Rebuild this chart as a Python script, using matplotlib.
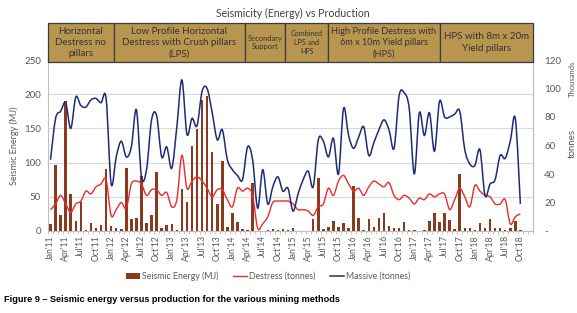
import numpy as np
import matplotlib
matplotlib.use("Agg")
from matplotlib import pyplot as plt
from matplotlib.path import Path
from matplotlib.patches import PathPatch, Rectangle, Patch
from matplotlib.lines import Line2D
from matplotlib import transforms

# months on the category axis, Jan'11 .. Dec'18
month_names = ["Jan", "Feb", "Mar", "Apr", "May", "Jun",
               "Jul", "Aug", "Sep", "Oct", "Nov", "Dec"]
years = ["11", "12", "13", "14", "15", "16", "17", "18"]
months = [f"{m}'{y}" for y in years for m in month_names]

# seismic energy (MJ), Jan'11 .. Oct'18
seismic = [10, 97, 24, 190, 54, 14, 42, 2, 12, 4, 9, 91,
           8, 5, 3, 92, 17, 19, 80, 11, 23, 86, 5, 9,
           10, 1.5, 61, 42, 125, 149, 191, 198, 115, 40, 103, 6,
           27, 13, 3, 2, 70, 0.5, 0.5, 1.5, 3, 2, 3, 1.5,
           4, 0.5, 0.5, 0.5, 17, 78, 3, 6, 14, 6, 11, 4,
           66, 19, 2, 18, 6, 19, 27, 7, 5, 4, 13, 2,
           2, 0.5, 1.5, 14, 27, 13, 27, 16, 3, 83, 5, 4,
           1.5, 11, 4, 17, 4, 5, 1.5, 4, 15, 1.5]

# destress production (thousand tonnes)
destress = [15, 19, 25, 19, 13, 19, 21, 28, 26, 31, 33, 36,
            11, 15, 20, 16, 33, 35, 33, 25, 29, 29, 25, 27,
            17, 22, 53, 30, 35, 38, 35, 30, 24, 29, 29, 22,
            17, 30, 28, 30, 25, 2, 5, 10, 20, 21, 21, 21,
            19, 15, 15, 14, 11, 17, 19, 30, 25, 35, 39, 33,
            28, 30, 25, 31, 35, 33, 31, 34, 25, 22, 25, 23,
            19, 23, 22, 26, 24, 26, 26, 15, 22, 30, 24, 17,
            32, 28, 25, 24, 19, 19, 22, 5, 10, 12]

# massive production (thousand tonnes)
massive = [50, 79, 84, 90, 72, 94, 88, 87, 92, 93, 90, 93,
           33, 52, 63, 52, 59, 85, 38, 43, 78, 81, 52, 59,
           44, 73, 106, 68, 79, 74, 98, 100, 83, 64, 71, 50,
           43, 39, 36, 59, 50, 16, 43, 19, 31, 38, 28, 30,
           14, 26, 36, 42, 31, 64, 63, 52, 65, 40, 86, 67,
           58, 66, 73, 53, 62, 71, 78, 71, 58, 95, 97, 86,
           40, 83, 67, 83, 56, 91, 80, 80, 82, 84, 57, 47,
           46, 57, 25, 33, 36, 53, 51, 63, 79, 19]

# mining method periods (category boundaries) and header labels
period_edges = [-0.5, 12.5, 38.5, 46.5, 55.0, 77.0, 95.5]
period_labels = ["Horizontal\nDestress no\npillars",
                 "Low Profile Horizontal\nDestress with Crush pillars\n(LPS)",
                 "Secondary\nSupport",
                 "Combined\nLPS and\nHPS",
                 "High Profile Destress with\n6m x 10m Yield pillars\n(HPS)",
                 "HPS with 8m x 20m\nYield pillars"]
period_sizes = [7.0, 7.0, 5.4, 5.1, 6.6, 7.0]


def smooth_path(x, y):
    """Excel-like smoothed line as a cubic bezier path through the points."""
    pts = np.column_stack([x, y]).astype(float)
    n = len(pts)
    verts = [pts[0]]
    codes = [Path.MOVETO]
    for i in range(n - 1):
        p0 = pts[max(i - 1, 0)]
        p1 = pts[i]
        p2 = pts[i + 1]
        p3 = pts[min(i + 2, n - 1)]
        verts += [p1 + (p2 - p0) / 6, p2 - (p3 - p1) / 6, p2]
        codes += [Path.CURVE4] * 3
    return Path(verts, codes)


plt.rcParams['font.family'] = ['Lato', 'DejaVu Sans']

bar_color = '#8B3A1E'
red = '#EE2A2A'
navy = '#1E2B78'
grey = '#595959'

fig = plt.figure(figsize=(5.77, 3.13), dpi=100)
ax = fig.add_axes([48 / 577, 1 - 231 / 313, 485 / 577, 171 / 313])
ax2 = ax.twinx()

x = np.arange(len(seismic))
ax.bar(x, seismic, width=0.5, color=bar_color, zorder=2)
ax.set_xlim(-0.5, len(months) - 0.5)
ax.set_ylim(0, 250)
ax.set_yticks(np.arange(0, 251, 50))
ax.grid(axis='y', color='#d9d9d9', lw=0.8, zorder=0)
ax.set_axisbelow(True)
ax.set_xticks(np.arange(0, len(months), 3))
ax.set_xticklabels(months[::3], rotation=90, fontsize=6.2, color=grey)
ax.set_xticks(np.arange(-0.5, len(months), 1), minor=True)
ax.tick_params(axis='x', which='major', length=0, pad=3)
ax.tick_params(axis='x', which='minor', length=2, color='#bfbfbf')
ax.tick_params(axis='y', length=0, labelsize=7, labelcolor=grey, pad=5)
ax.set_ylabel("Seismic Energy (MJ)", fontsize=6.5, color=grey, labelpad=4)
ax.spines['top'].set_visible(False)
for s in ['left', 'bottom', 'right']:
    ax.spines[s].set_color('#bfbfbf')

ax2.set_ylim(0, 120)
ax2.set_yticks(np.arange(0, 121, 20))
ax2.set_yticklabels(['-' if v == 0 else str(v) for v in range(0, 121, 20)])
ax2.tick_params(axis='y', length=0, labelsize=7, labelcolor=grey, pad=8)
for s in ['top', 'left', 'bottom']:
    ax2.spines[s].set_visible(False)
ax2.spines['right'].set_color('#bfbfbf')

ax2.add_patch(PathPatch(smooth_path(x, destress), fill=False,
                        edgecolor=red, lw=1.0, zorder=3))
ax2.add_patch(PathPatch(smooth_path(x, massive), fill=False,
                        edgecolor=navy, lw=1.1, zorder=4))

fig.text(572 / 577, 1 - 79 / 313, "Thousands", rotation=90, fontsize=5.5,
         color=grey, ha='center', va='center')
fig.text(572 / 577, 1 - 143 / 313, "tonnes", rotation=90, fontsize=7,
         color=grey, ha='center', va='center')

# header band with the mining methods
trans = transforms.blended_transform_factory(ax.transData, fig.transFigure)
top, bottom = 1 - 23 / 313, 1 - 62 / 313
for i, label in enumerate(period_labels):
    x0, x1 = period_edges[i], period_edges[i + 1]
    fig.patches.append(Rectangle((x0, bottom), x1 - x0, top - bottom,
                                 transform=trans, facecolor='#B99650',
                                 edgecolor='#3b3b3b', lw=0.9))
    fig.text((x0 + x1) / 2, (top + bottom) / 2, label, transform=trans,
             ha='center', va='center', fontsize=period_sizes[i],
             color='#333333', linespacing=1.3)

fig.text(0.508, 1 - 13 / 313, "Seismicity (Energy) vs Production",
         ha='center', va='center', fontsize=7.6, color='#404040')

handles = [Patch(facecolor=bar_color), Line2D([], [], color=red, lw=1.0),
           Line2D([], [], color=navy, lw=1.1)]
fig.legend(handles, ["Seismic Energy (MJ)", "Destress (tonnes)", "Massive (tonnes)"],
           loc='center', bbox_to_anchor=(268 / 577, 1 - 276 / 313), ncol=3,
           frameon=False, fontsize=6.3, handlelength=1.6, handletextpad=0.3,
           columnspacing=1.6, labelcolor=grey)

fig.text(4 / 577, 1 - 300 / 313,
         "Figure 9 \u2013 Seismic energy versus production for the various mining methods",
         fontsize=6.6, fontweight='bold', family='Liberation Sans', va='center')

fig.savefig("out.png", dpi=100)
